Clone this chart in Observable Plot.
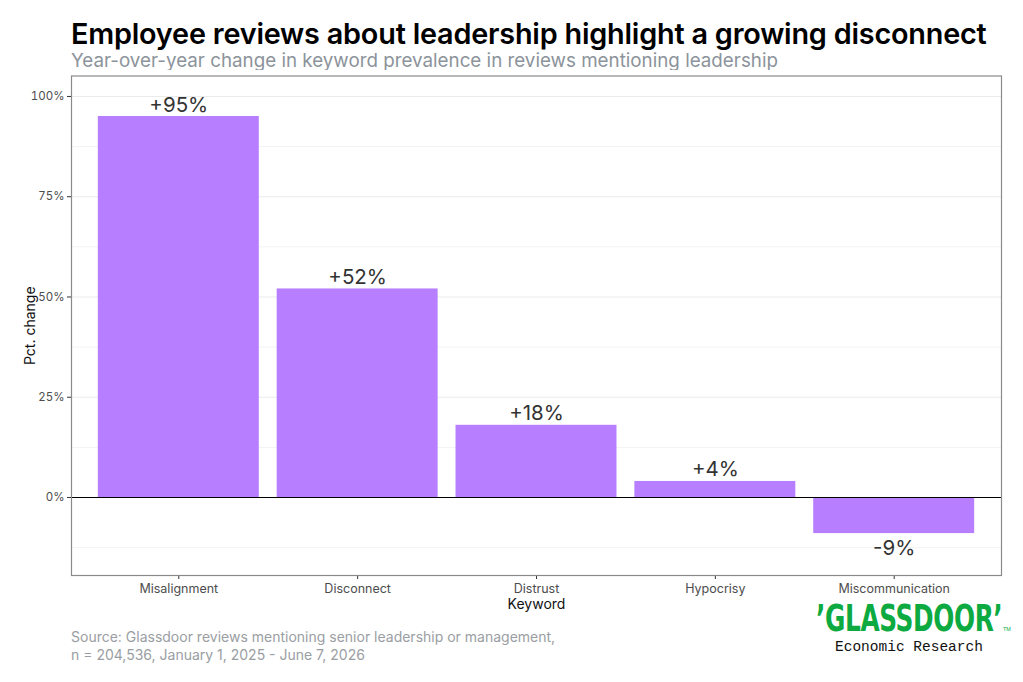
<!DOCTYPE html>
<html>
<head>
<meta charset="utf-8">
<script src="https://cdn.jsdelivr.net/npm/d3@7"></script>
<script src="https://cdn.jsdelivr.net/npm/@observablehq/plot@0.6"></script>
<style>
  html, body { margin: 0; padding: 0; background: #fff; }
  #wrap { position: relative; width: 1023px; height: 682px; font-family: Inter, "Noto Sans", sans-serif; overflow: hidden; }
  #title { position: absolute; left: 71px; top: 19px; font-size: 28.8px; line-height: 30px; font-weight: 600; color: #000; letter-spacing: -0.2px; white-space: nowrap; }
  #subtitle { position: absolute; left: 71px; top: 50px; font-size: 18.8px; line-height: 21px; color: #8c939b; white-space: nowrap; }
  #chart { position: absolute; left: 0; top: 70px; }
  #caption { position: absolute; left: 71px; top: 628px; font-size: 14px; line-height: 17.5px; color: #9a9ea3; white-space: nowrap; }
  #logo { position: absolute; left: 816px; top: 597px; width: 200px; height: 70px; }
  #logo .brand { position: absolute; left: 0; top: 0; font-family: "Liberation Sans Narrow", "DejaVu Sans Condensed", "Liberation Sans", sans-serif; font-weight: 700; font-size: 37px; color: #0caa41; transform-origin: 0 0; transform: scaleX(0.745); white-space: nowrap; letter-spacing: -0.5px; }
  #logo .tm { position: absolute; left: 187px; top: 29px; font-size: 5.5px; color: #0caa41; font-family: "Liberation Sans", sans-serif; }
  #logo .sub { position: absolute; left: 19px; top: 42px; font-family: "Liberation Mono", "DejaVu Sans Mono", monospace; font-size: 14.5px; color: #111; white-space: nowrap; }
</style>
</head>
<body>
<div id="wrap">
  <div id="title">Employee reviews about leadership highlight a growing disconnect</div>
  <div id="subtitle">Year-over-year change in keyword prevalence in reviews mentioning leadership</div>
  <div id="chart"></div>
  <div id="caption">Source: Glassdoor reviews mentioning senior leadership or management,<br>n = 204,536, January 1, 2025 - June 7, 2026</div>
  <div id="logo">
    <div class="brand">’GLASSDOOR’</div>
    <div class="tm">TM</div>
    <div class="sub">Economic Research</div>
  </div>
</div>
<script>
// Keywords and their year-over-year change (percent)
const keywords = ["Misalignment", "Disconnect", "Distrust", "Hypocrisy", "Miscommunication"];
const pctChange = [95, 52, 18, 4, -9];
const majorTicks = [0, 25, 50, 75, 100];
const minorTicks = [-12.5, 12.5, 37.5, 62.5, 87.5];

const rows = keywords.map((k, i) => ({keyword: k, value: pctChange[i]}));
const fmt = v => (v >= 0 ? "+" : "-") + Math.abs(v) + "%";
const barColor = "#b77fff";

const chart = Plot.plot({
  width: 1023,
  height: 545,
  marginTop: 5.5,
  marginBottom: 40,
  marginLeft: 71,
  marginRight: 22,
  style: {fontFamily: "Inter, 'Noto Sans', sans-serif", background: "#fff"},
  x: {domain: keywords, paddingInner: 0.1, paddingOuter: 0.15, round: false},
  y: {domain: [-19.45, 105.1]},
  marks: [
    // grid
    Plot.ruleY(minorTicks, {stroke: "#f3f3f3", strokeWidth: 1}),
    Plot.ruleY(majorTicks.filter(d => d !== 0), {stroke: "#ebebeb", strokeWidth: 1.1}),
    // bars
    Plot.barY(rows, {x: "keyword", y: "value", fill: barColor}),
    // zero line
    Plot.ruleY([0], {stroke: "#000", strokeWidth: 1.2}),
    // value labels
    Plot.text(rows.filter(d => d.value >= 0), {
      x: "keyword", y: "value", text: d => fmt(d.value),
      lineAnchor: "bottom", dy: -5, fontSize: 20.5, fill: "#333"
    }),
    Plot.text(rows.filter(d => d.value < 0), {
      x: "keyword", y: "value", text: d => fmt(d.value),
      lineAnchor: "top", dy: 7, fontSize: 20.5, fill: "#333"
    }),
    // axes
    Plot.axisY(majorTicks, {
      tickFormat: d => d + "%", tickSize: 4, tickPadding: 3,
      fontSize: 11.5, color: "#4d4d4d", stroke: "#333", label: null
    }),
    Plot.axisX({
      tickSize: 4, tickPadding: 5, fontSize: 12.5, color: "#4d4d4d",
      stroke: "#333", label: null
    }),
    Plot.text(["Pct. change"], {
      frameAnchor: "left", textAnchor: "middle", lineAnchor: "middle",
      dx: -41, rotate: -90, fontSize: 14, fill: "#111", text: d => d
    }),
    Plot.text(["Keyword"], {
      frameAnchor: "bottom", textAnchor: "middle", lineAnchor: "middle",
      dy: 29.5, fontSize: 14, fill: "#111", text: d => d
    }),
    // panel border
    Plot.frame({stroke: "#8a8a8a", strokeWidth: 1.2})
  ]
});
document.getElementById("chart").appendChild(chart);
</script>
</body>
</html>
